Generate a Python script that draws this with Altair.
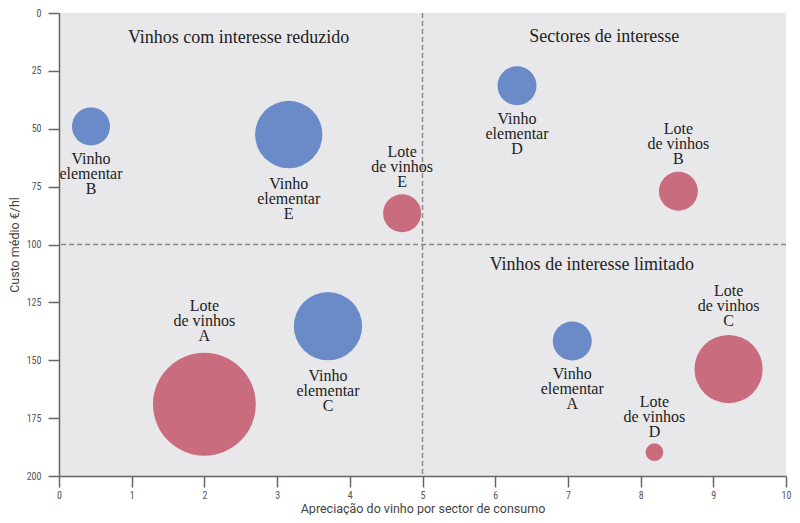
import altair as alt
import numpy as np
import pandas as pd

# ---- data ----
nomes = [
    "Vinho\nelementar\nB", "Vinho\nelementar\nE", "Lote\nde vinhos\nE",
    "Vinho\nelementar\nD", "Lote\nde vinhos\nB", "Lote\nde vinhos\nA",
    "Vinho\nelementar\nC", "Vinho\nelementar\nA", "Lote\nde vinhos\nC",
    "Lote\nde vinhos\nD",
]
tipo = [
    "Vinho elementar", "Vinho elementar", "Lote de vinhos",
    "Vinho elementar", "Lote de vinhos", "Lote de vinhos",
    "Vinho elementar", "Vinho elementar", "Lote de vinhos",
    "Lote de vinhos",
]
apreciacao = [0.44, 3.16, 4.72, 6.30, 8.52, 2.00, 3.70, 7.06, 9.21, 8.19]
custo = [49.0, 52.5, 86.5, 31.4, 77.0, 169.0, 135.3, 141.7, 153.8, 189.7]
volume = [14.5, 45.4, 14.5, 15.2, 15.2, 105.7, 46.6, 15.2, 46.6, 3.1]
lado = ["abaixo", "abaixo", "acima", "abaixo", "acima", "acima",
        "abaixo", "abaixo", "acima", "acima"]

quad_txt = ["Vinhos com interesse reduzido", "Sectores de interesse",
            "Vinhos de interesse limitado"]
quad_x = [2.47, 7.5, 7.33]
quad_y = [10.6, 10.2, 108.8]

ref_x = [5]
ref_y = [100]

x_ticks = list(range(0, 11))
y_ticks = list(range(0, 201, 25))

# ---- layout constants ----
W, H = 727, 463
Y_DOMAIN = [0, 200]
SIZE_DOMAIN = [0, 110]
SIZE_RANGE = [0, 11000]
GAP_BELOW = 3      # circle edge -> top of label block
GAP_ABOVE = 48     # circle edge -> top of 3-line label block placed above

# ---- build tables ----
df = pd.DataFrame({"nome": nomes, "tipo": tipo, "x": apreciacao,
                   "y": custo, "volume": volume, "lado": lado})
px_per_unit = H / (Y_DOMAIN[1] - Y_DOMAIN[0])
raio = np.sqrt(df["volume"] * SIZE_RANGE[1] / SIZE_DOMAIN[1] / np.pi)
df["ly"] = np.where(df["lado"] == "abaixo",
                    df["y"] + (raio + GAP_BELOW) / px_per_unit,
                    df["y"] - (raio + GAP_ABOVE) / px_per_unit)

dq = pd.DataFrame({"t": quad_txt, "x": quad_x, "y": quad_y})
drx = pd.DataFrame({"v": ref_x})
dry = pd.DataFrame({"v": ref_y})

BLUE = "#6b8bc8"
RED = "#c96c7e"
AX = "#666666"
SERIF = "Liberation Serif"
SANS = "Roboto Condensed, DejaVu Sans Condensed, Roboto"

xs = alt.Scale(domain=[0, 10], nice=False)
ys = alt.Scale(domain=Y_DOMAIN, reverse=True, nice=False)

x_axis = alt.Axis(values=x_ticks, format="d", tickSize=11, tickWidth=1.5,
                  tickColor=AX, domainColor=AX, domainWidth=1.5,
                  labelFont=SANS, labelFontSize=10, labelColor="#555",
                  labelPadding=3, labelFlush=False, grid=False,
                  title="Apreciação do vinho por sector de consumo",
                  titleFont="Roboto", titleFontSize=12.5,
                  titleFontWeight="normal", titleColor="#444",
                  titlePadding=2)
y_axis = alt.Axis(values=y_ticks, format="d", tickSize=11, tickWidth=1.5,
                  tickColor=AX, domainColor=AX, domainWidth=1.5,
                  labelFont=SANS, labelFontSize=10, labelColor="#555",
                  labelPadding=7, labelFlush=False, grid=False,
                  title="Custo médio €/hl", titleFont="Roboto",
                  titleFontSize=12.5, titleFontWeight="normal",
                  titleColor="#444", titlePadding=5)

base = alt.Chart(df)

bubbles = base.mark_circle(opacity=1).encode(
    x=alt.X("x:Q", scale=xs, axis=x_axis),
    y=alt.Y("y:Q", scale=ys, axis=y_axis),
    size=alt.Size("volume:Q", scale=alt.Scale(domain=SIZE_DOMAIN,
                                              range=SIZE_RANGE), legend=None),
    color=alt.Color("tipo:N", scale=alt.Scale(
        domain=["Vinho elementar", "Lote de vinhos"], range=[BLUE, RED]),
        legend=None),
)

labels = base.mark_text(
    font=SERIF, fontSize=16, lineHeight=15, baseline="top",
    color="#222", lineBreak="\n").encode(
    x=alt.X("x:Q", scale=xs), y=alt.Y("ly:Q", scale=ys), text="nome:N")

quads = alt.Chart(dq).mark_text(font=SERIF, fontSize=18, color="#222",
                                baseline="middle").encode(
    x=alt.X("x:Q", scale=xs), y=alt.Y("y:Q", scale=ys), text="t:N")

vline = alt.Chart(drx).mark_rule(color="#8a8a8a", strokeWidth=1.5,
                                 strokeDash=[5, 3]).encode(
    x=alt.X("v:Q", scale=xs))
hline = alt.Chart(dry).mark_rule(color="#8a8a8a", strokeWidth=1.5,
                                 strokeDash=[5, 3]).encode(
    y=alt.Y("v:Q", scale=ys))

chart = alt.layer(vline, hline, bubbles, labels, quads).properties(
    width=W, height=H,
    autosize=alt.AutoSizeParams(type="none"),
    padding={"left": 51, "top": 5, "right": 6, "bottom": 39},
    background="white",
).configure_view(fill="#e8e8ea", stroke=None)

chart.save("out.html", embed_options={"renderer": "svg", "actions": False})
